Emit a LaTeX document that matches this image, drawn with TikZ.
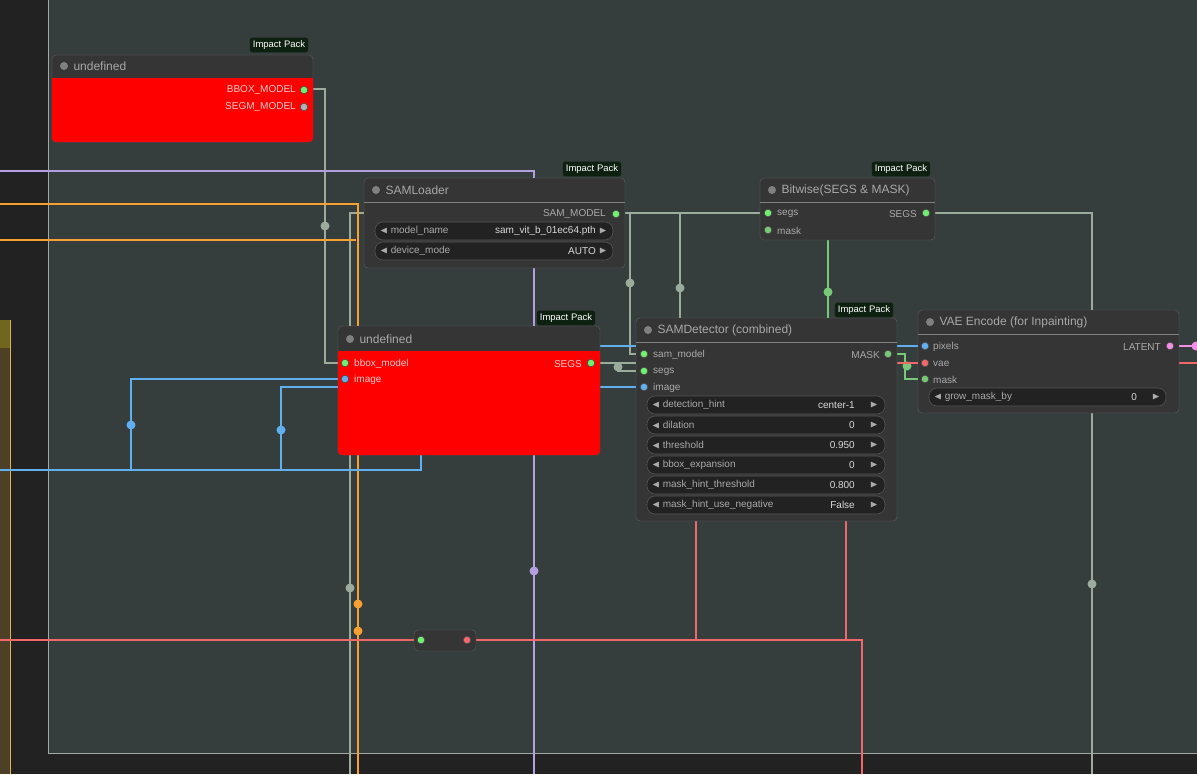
\documentclass[tikz,border=0pt]{standalone}
\usepackage{amssymb}
\usepackage{fontspec}
\setmainfont{Liberation Sans}
\begin{document}
\begin{tikzpicture}[x=1pt,y=-1pt,
  wire/.style={line width=2.4pt},
  gw/.style={wire,draw=wgray}, ow/.style={wire,draw=worange}, pw/.style={wire,draw=wpurple},
  bw/.style={wire,draw=wblue}, rw/.style={wire,draw=wred}, grw/.style={wire,draw=wgreen},
  knot/.style={circle,inner sep=0pt,minimum size=9pt},
  nodebox/.style={fill=nodebg,rounded corners=4pt,draw=black!60,line width=0.3pt},
  ttl/.style={anchor=west,text=ttlc,font=\fontsize{12}{14}\selectfont},
  lbl/.style={text=lblc,font=\fontsize{10}{12}\selectfont,inner sep=1pt},
  badge/.style={fill=badgebg,rounded corners=2.5pt,text=white,font=\fontsize{9.5}{11}\selectfont,inner sep=3pt},
  sock/.style={circle,inner sep=0pt,minimum size=7.5pt,draw=black!70,line width=0.6pt},
  wdg/.style={fill=wdgbg,draw=wdgbd,rounded corners=8pt,line width=0.6pt}]
\definecolor{bg}{HTML}{363D3D}\definecolor{dark}{HTML}{222222}
\definecolor{wgray}{HTML}{9CAC9C}\definecolor{worange}{HTML}{F5A030}\definecolor{wpurple}{HTML}{B4A0E0}
\definecolor{wblue}{HTML}{60B0F0}\definecolor{wred}{HTML}{F06868}\definecolor{wgreen}{HTML}{78C878}
\definecolor{wpink}{HTML}{F090E8}
\definecolor{nodebg}{HTML}{353535}\definecolor{titlebg}{HTML}{303030}\definecolor{ttlc}{HTML}{A8A8A8}
\definecolor{lblc}{HTML}{AAAAAA}\definecolor{badgebg}{HTML}{0E2010}\definecolor{wdgbg}{HTML}{222222}\definecolor{wdgbd}{HTML}{555555}
\definecolor{sgreen}{HTML}{70F070}\definecolor{sblue}{HTML}{60B0F0}\definecolor{sred}{HTML}{F06868}
\definecolor{olive}{HTML}{4E4026}
\useasboundingbox (0,0) rectangle (1197,774);
\fill[dark] (0,0) rectangle (1197,774);
\fill[bg] (48,0) rectangle (1197,753);
\draw[gray!70,line width=0.6pt] (48.5,0) -- (48.5,753.5) -- (1197,753.5);
\fill[olive] (0,320) rectangle (10,774);
\fill[olive!80!yellow] (0,320) rectangle (10,348);
\draw[yellow!40!brown] (10,320) -- (10,774);
% coordinates
\coordinate (bboxout) at (304,89); \coordinate (bboxin) at (345,363);
\coordinate (samout) at (616,213); \coordinate (samin) at (642,354);
\coordinate (segsout) at (591,363); \coordinate (segsin) at (642,371);
\coordinate (bwsegsin) at (766,213); \coordinate (bwsegsout) at (926,213); \coordinate (bwmask) at (766,230);
\coordinate (maskout) at (888,354); \coordinate (vaemask) at (925,379);
\coordinate (pix) at (925,346); \coordinate (vaein) at (925,363); \coordinate (latent) at (1170,346);
\coordinate (imgin) at (345,379); \coordinate (detimg) at (642,387);
% wires
\draw[gw] (bboxout) -- (325,89) -- (325,363) -- (bboxin);
\node[knot,fill=wgray] at (325,226) {};
\draw[gw] (samout) -- (bwsegsin);
\draw[gw] (samout) -- (630,213) -- (630,354) -- (samin);
\node[knot,fill=wgray] at (630,283) {};
\draw[gw] (680,213) -- (680,320);
\node[knot,fill=wgray] at (680,288) {};
\draw[gw] (segsout) -- (618,363) -- (618,371) -- (segsin);
\draw[gw] (600,363) -- (636,363);
\node[knot,fill=wgray] at (618,367) {};
\draw[gw] (bwsegsout) -- (1092,213) -- (1092,774);
\node[knot,fill=wgray] at (1092,584) {};
\draw[gw] (364,213) -- (350,213) -- (350,774);
\node[knot,fill=wgray] at (350,588) {};
\draw[grw] (828,240) -- (828,318);
\node[knot,fill=wgreen] at (828,292) {};
\draw[grw] (maskout) -- (905,354) -- (905,379) -- (vaemask);
\node[knot,fill=wgreen] at (907,366) {};
\draw[pw] (0,171) -- (534,171) -- (534,774);
\node[knot,fill=wpurple] at (534,571) {};
\draw[ow] (0,204) -- (358,204) -- (358,774);
\draw[ow] (0,240) -- (356,240);
\node[knot,fill=worange] at (358,604) {};
\node[knot,fill=worange] at (358,631) {};
\draw[bw] (0,470) -- (421,470) -- (421,455);
\draw[bw] (131,470) -- (131,379) -- (imgin);
\draw[bw] (281,470) -- (281,387) -- (338,387);
\node[knot,fill=wblue] at (131,425) {};
\node[knot,fill=wblue] at (281,430) {};
\draw[bw] (600,346) -- (pix);
\draw[bw] (600,387) -- (detimg);
\draw[rw] (0,640) -- (414,640);
\draw[rw] (476,640) -- (862,640) -- (862,774);
\draw[rw] (696,521) -- (696,640);
\draw[rw] (846,521) -- (846,640);
\draw[rw] (897,363) -- (vaein);
\draw[rw] (1179,363) -- (1197,363);
\draw[wire,draw=wpink] (latent) -- (1197,346);
\node[knot,fill=wpink] at (1196,346) {};
% node 1 undefined
\fill[nodebox] (52,55) rectangle (313,142);
\fill[red,rounded corners=4pt] (52,78) rectangle (313,142);
\fill[red] (52,78) rectangle (313,90);
\node[knot,fill=gray,minimum size=8pt] at (64,66) {};
\node[ttl] (n1) at (70,66) {undefined};
\node[badge] (b1) at (279,45) {Impact Pack};
\node[lbl,anchor=east,text=pink!80!white] (l1) at (297,90) {BBOX\_MODEL};
\node[lbl,anchor=east,text=pink!80!white] (l2) at (297,107) {SEGM\_MODEL};
\node[sock,fill=sgreen] at (304,90) {};
\node[sock,fill=gray!60] at (304,107) {};
% SAMLoader
\fill[nodebox] (364,178) rectangle (625,268);
\draw[black!50] (364,202) -- (625,202);
\node[knot,fill=gray,minimum size=8pt] at (376,190) {};
\node[ttl] (n2) at (382,190) {SAMLoader};
\node[badge] (b2) at (592,169) {Impact Pack};
\node[lbl,anchor=east] at (607,214) {SAM\_MODEL};
\node[sock,fill=sgreen] at (616,214) {};
\fill[wdg] (375,222) rectangle (613,240);
\node[lbl,anchor=west] at (379,231) {$\blacktriangleleft$ model\_name};
\node[lbl,anchor=east,text=white!85!black] at (597,231) {sam\_vit\_b\_01ec64.pth};
\node[lbl] at (603,231) {$\blacktriangleright$};
\fill[wdg] (375,242) rectangle (613,260);
\node[lbl,anchor=west] at (379,251) {$\blacktriangleleft$ device\_mode};
\node[lbl,anchor=east,text=white!85!black] at (597,251) {AUTO};
\node[lbl] at (603,251) {$\blacktriangleright$};
% node 3 undefined
\fill[nodebox] (338,326) rectangle (600,455);
\fill[red,rounded corners=4pt] (338,351) rectangle (600,455);
\fill[red] (338,351) rectangle (600,362);
\node[knot,fill=gray,minimum size=8pt] at (350,339) {};
\node[ttl] (n3) at (356,339) {undefined};
\node[badge] (b3) at (566,318) {Impact Pack};
\node[sock,fill=sgreen] at (345,363) {};
\node[lbl,anchor=west,text=pink!80!white] at (353,364) {bbox\_model};
\node[sock,fill=sblue] at (345,379) {};
\node[lbl,anchor=west,text=pink!80!white] at (353,380) {image};
\node[lbl,anchor=east,text=pink!80!white] at (583,364) {SEGS};
\node[sock,fill=sgreen] at (591,363) {};
% SAMDetector
\fill[nodebox] (636,318) rectangle (897,521);
\draw[black!50] (636,342) -- (897,342);
\node[knot,fill=gray,minimum size=8pt] at (648,330) {};
\node[ttl] (n4) at (654,330) {SAMDetector (combined)};
\node[badge] (b4) at (864,310) {Impact Pack};
\node[sock,fill=sgreen] at (644,354) {};
\node[lbl,anchor=west] at (652,355) {sam\_model};
\node[sock,fill=sgreen] at (644,371) {};
\node[lbl,anchor=west] at (652,372) {segs};
\node[sock,fill=sblue] at (644,387) {};
\node[lbl,anchor=west] at (652,388) {image};
\node[lbl,anchor=east] at (881,355) {MASK};
\node[sock,fill=wgreen] at (888,354) {};
\foreach \y/\a/\b in {405/detection\_hint/center-1,425/dilation/0,445/threshold/0.950,465/bbox\_expansion/0,485/mask\_hint\_threshold/0.800,505/mask\_hint\_use\_negative/False}{
  \fill[wdg] (647,\y-9) rectangle (885,\y+9);
  \node[lbl,anchor=west] at (651,\y) {$\blacktriangleleft$ \a};
  \node[lbl,anchor=east,text=white!85!black] at (856,\y) {\b};
  \node[lbl] at (874,\y) {$\blacktriangleright$};
}
% Bitwise
\fill[nodebox] (760,178) rectangle (935,240);
\draw[black!50] (760,202) -- (935,202);
\node[knot,fill=gray,minimum size=8pt] at (772,190) {};
\node[ttl] (n5) at (778,190) {Bitwise(SEGS \& MASK)};
\node[badge] (b5) at (901,169) {Impact Pack};
\node[sock,fill=sgreen] at (768,213) {};
\node[lbl,anchor=west] at (776,214) {segs};
\node[sock,fill=wgreen] at (768,230) {};
\node[lbl,anchor=west] at (776,231) {mask};
\node[lbl,anchor=east] at (918,214) {SEGS};
\node[sock,fill=sgreen] at (926,213) {};
% VAE Encode
\fill[nodebox] (918,310) rectangle (1179,413);
\draw[black!50] (918,334) -- (1179,334);
\node[knot,fill=gray,minimum size=8pt] at (930,322) {};
\node[ttl] (n6) at (936,322) {VAE Encode (for Inpainting)};
\node[sock,fill=sblue] at (925,346) {};
\node[lbl,anchor=west] at (932,347) {pixels};
\node[sock,fill=sred] at (925,363) {};
\node[lbl,anchor=west] at (932,364) {vae};
\node[sock,fill=wgreen] at (925,379) {};
\node[lbl,anchor=west] at (932,380) {mask};
\node[lbl,anchor=east] at (1162,347) {LATENT};
\node[sock,fill=wpink] at (1170,346) {};
\fill[wdg] (929,388) rectangle (1166,406);
\node[lbl,anchor=west] at (933,397) {$\blacktriangleleft$ grow\_mask\_by};
\node[lbl,anchor=east,text=white!85!black] at (1138,397) {0};
\node[lbl] at (1156,397) {$\blacktriangleright$};
% reroute
\fill[nodebox] (414,630) rectangle (476,651);
\node[sock,fill=sgreen] (rin) at (421,640) {};
\node[sock,fill=sred] (rout) at (467,640) {};
\end{tikzpicture}
\end{document}
